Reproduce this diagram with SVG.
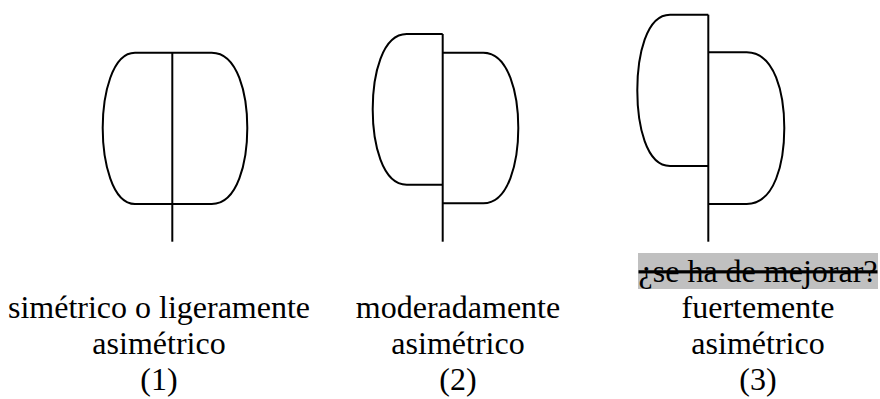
<svg xmlns="http://www.w3.org/2000/svg" width="880" height="399" viewBox="0 0 880 399">
<style>
.s{fill:none;stroke:#000;stroke-width:2}
.t{font-family:"Liberation Serif","Times New Roman",serif;font-size:32px;fill:#000;text-anchor:middle}
.x{text-decoration:line-through}
</style>
<rect width="880" height="399" fill="#fff"/>
<g id="shape1">
<path class="s" d="M135,52.7 H211.7 C238,52.7 247.3,95 247.3,128 C247.3,161 238,204 211.7,204 H135 C112,204 102.7,161 102.7,128 C102.7,95 112,52.7 135,52.7 Z"/>
<line class="s" x1="172.3" y1="52.7" x2="172.3" y2="241.7"/>
</g>
<g id="shape2">
<path class="s" d="M442.7,34 H406.7 C382,34 372.7,75 372.7,109.3 C372.7,143 382,184.7 406.7,184.7 H442.7"/>
<path class="s" d="M442.7,52.7 H483.3 C509,52.7 518.3,95 518.3,128 C518.3,161 509,203.3 483.3,203.3 H442.7"/>
<line class="s" x1="442.7" y1="34" x2="442.7" y2="241.7"/>
</g>
<g id="shape3">
<path class="s" d="M708.3,14.7 H670 C646,14.7 637.3,56 637.3,90.3 C637.3,125 646,166 670,166 H708.3"/>
<path class="s" d="M708.3,52.3 H746.7 C775,52.3 784.3,94 784.3,128 C784.3,162 775,204 746.7,204 H708.3"/>
<line class="s" x1="708.3" y1="14.7" x2="708.3" y2="241.7"/>
</g>
<g id="label1">
<text class="t" x="159" y="318">simétrico o ligeramente</text>
<text class="t" x="159" y="354">asimétrico</text>
<text class="t" x="159" y="390">(1)</text>
</g>
<g id="label2">
<text class="t" x="458" y="318">moderadamente</text>
<text class="t" x="458" y="354">asimétrico</text>
<text class="t" x="458" y="390">(2)</text>
</g>
<g id="label3">
<rect x="638" y="253" width="240" height="36" fill="#c0c0c0"/>
<text class="t x" x="758" y="281.5">¿se ha de mejorar?</text>
<text class="t" x="758" y="318">fuertemente</text>
<text class="t" x="758" y="354">asimétrico</text>
<text class="t" x="758" y="390">(3)</text>
</g>
</svg>
